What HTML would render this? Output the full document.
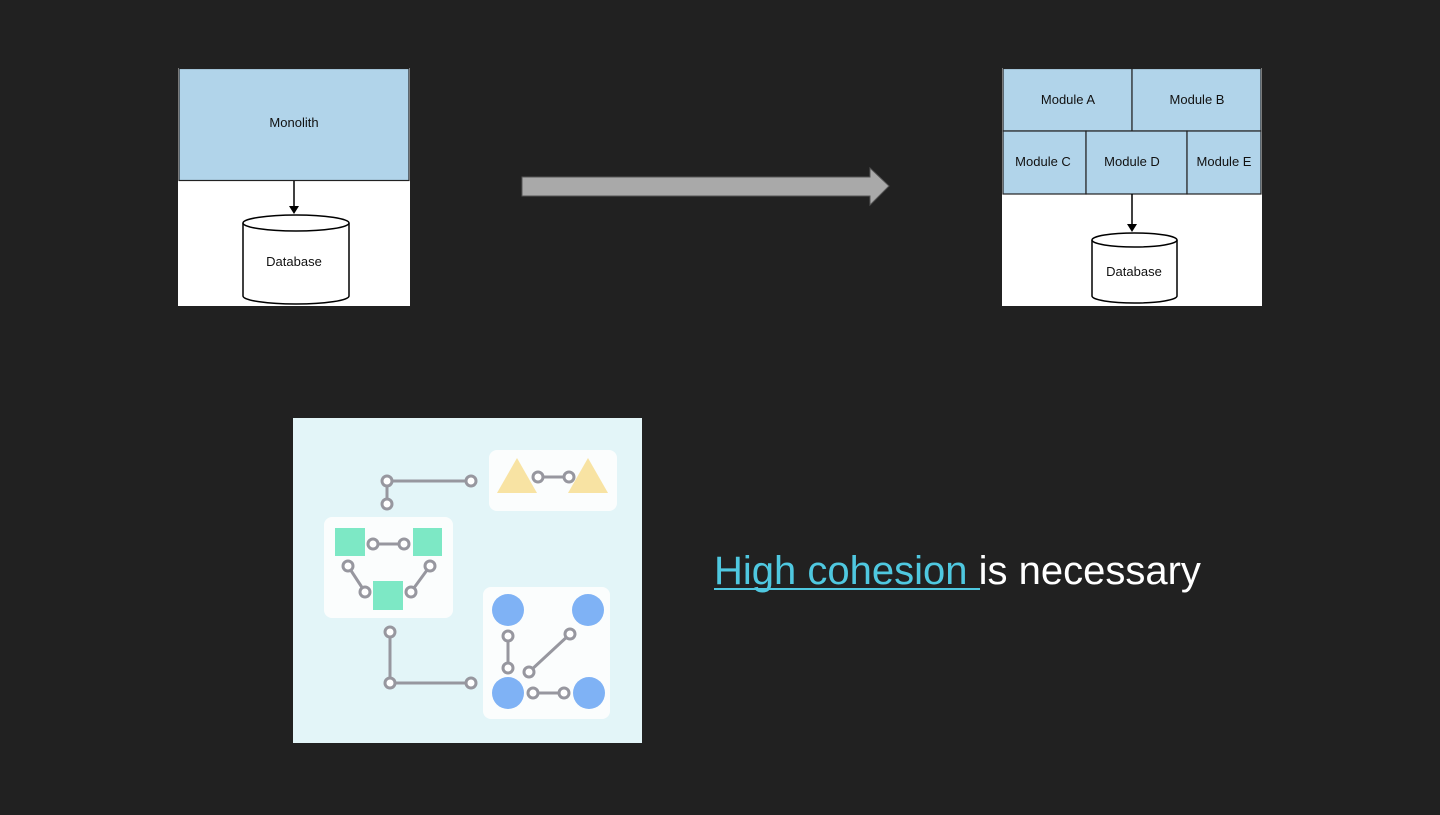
<!DOCTYPE html>
<html><head><style>
html,body{margin:0;padding:0;background:#212121;}
</style></head><body>
<svg width="1440" height="810" viewBox="0 0 1440 810" xmlns="http://www.w3.org/2000/svg" font-family="Liberation Sans, sans-serif">
<rect width="1440" height="810" fill="#212121"/>
<!-- Left monolith -->
<rect x="178" y="68" width="232" height="238" fill="#fff"/>
<rect x="179" y="68.5" width="230" height="112" fill="#b1d4ea" stroke="#222" stroke-width="1.2"/>
<text x="294" y="127" font-size="13" text-anchor="middle" fill="#111">Monolith</text>
<line x1="294" y1="181" x2="294" y2="207" stroke="#000" stroke-width="1.5"/>
<polygon points="289,206 299,206 294,214" fill="#000"/>
<path d="M243,223 L243,296 A53,8 0 0 0 349,296 L349,223" fill="#fff" stroke="#000" stroke-width="1.5"/>
<ellipse cx="296" cy="223" rx="53" ry="8" fill="#fff" stroke="#000" stroke-width="1.5"/>
<text x="294" y="266" font-size="13" text-anchor="middle" fill="#111">Database</text>
<!-- Big arrow -->
<polygon points="522,177 870,177 870,168 889,186 870,205 870,196 522,196" fill="#a9a9a9" stroke="#555" stroke-width="1"/>
<!-- Right modular -->
<rect x="1002" y="68" width="260" height="238" fill="#fff"/>
<g fill="#b1d4ea" stroke="#222" stroke-width="1.2">
<rect x="1003" y="68.5" width="129" height="62.5"/>
<rect x="1132" y="68.5" width="129" height="62.5"/>
<rect x="1003" y="131" width="83" height="63"/>
<rect x="1086" y="131" width="101" height="63"/>
<rect x="1187" y="131" width="74" height="63"/>
</g>
<g font-size="13" text-anchor="middle" fill="#111">
<text x="1068" y="104">Module A</text>
<text x="1197" y="104">Module B</text>
<text x="1043" y="166">Module C</text>
<text x="1132" y="166">Module D</text>
<text x="1224" y="166">Module E</text>
</g>
<line x1="1132" y1="194" x2="1132" y2="225" stroke="#000" stroke-width="1.5"/>
<polygon points="1127,224 1137,224 1132,232" fill="#000"/>
<path d="M1092,240 L1092,296 A42.5,7 0 0 0 1177,296 L1177,240" fill="#fff" stroke="#000" stroke-width="1.5"/>
<ellipse cx="1134.5" cy="240" rx="42.5" ry="7" fill="#fff" stroke="#000" stroke-width="1.5"/>
<text x="1134" y="276" font-size="13" text-anchor="middle" fill="#111">Database</text>
<!-- Bottom image -->
<rect x="293" y="418" width="349" height="325" fill="#e3f5f8"/>
<rect x="489" y="450" width="128" height="61" rx="8" fill="#fbfdfd"/>
<rect x="324" y="517" width="129" height="101" rx="8" fill="#fbfdfd"/>
<rect x="483" y="587" width="127" height="132" rx="8" fill="#fbfdfd"/>
<polygon points="497,493 517,458 537,493" fill="#f8e3a3"/>
<polygon points="568,493 588,458 608,493" fill="#f8e3a3"/>
<rect x="335" y="528" width="30" height="28" fill="#7de8c5"/>
<rect x="413" y="528" width="29" height="28" fill="#7de8c5"/>
<rect x="373" y="581" width="30" height="29" fill="#7de8c5"/>
<g fill="#7fb2f5">
<circle cx="508" cy="610" r="16"/><circle cx="588" cy="610" r="16"/>
<circle cx="508" cy="693" r="16"/><circle cx="589" cy="693" r="16"/>
</g>
<g stroke="#97979f" stroke-width="3" fill="none">
<path d="M387,504 L387,481 L471,481"/>
<line x1="538" y1="477" x2="569" y2="477"/>
<line x1="373" y1="544" x2="404" y2="544"/>
<line x1="348" y1="566" x2="365" y2="592"/>
<line x1="430" y1="566" x2="411" y2="592"/>
<path d="M390,632 L390,683 L471,683"/>
<line x1="508" y1="636" x2="508" y2="668"/>
<line x1="570" y1="634" x2="529" y2="672"/>
<line x1="533" y1="693" x2="564" y2="693"/>
</g>
<g stroke="#97979f" stroke-width="3" fill="#fff">
<circle cx="387" cy="481" r="5"/><circle cx="471" cy="481" r="5"/><circle cx="387" cy="504" r="5"/>
<circle cx="538" cy="477" r="5"/><circle cx="569" cy="477" r="5"/>
<circle cx="373" cy="544" r="5"/><circle cx="404" cy="544" r="5"/>
<circle cx="348" cy="566" r="5"/><circle cx="365" cy="592" r="5"/>
<circle cx="430" cy="566" r="5"/><circle cx="411" cy="592" r="5"/>
<circle cx="390" cy="632" r="5"/><circle cx="390" cy="683" r="5"/><circle cx="471" cy="683" r="5"/>
<circle cx="508" cy="636" r="5"/><circle cx="508" cy="668" r="5"/>
<circle cx="570" cy="634" r="5"/><circle cx="529" cy="672" r="5"/>
<circle cx="533" cy="693" r="5"/><circle cx="564" cy="693" r="5"/>
</g>
<!-- Text -->
<text x="714" y="584" font-size="40" fill="#fff"><tspan fill="#4fc8e0">High cohesion</tspan> is necessary</text>
<line x1="714" y1="589" x2="980" y2="589" stroke="#4fc8e0" stroke-width="2"/>
</svg>
</body></html>
